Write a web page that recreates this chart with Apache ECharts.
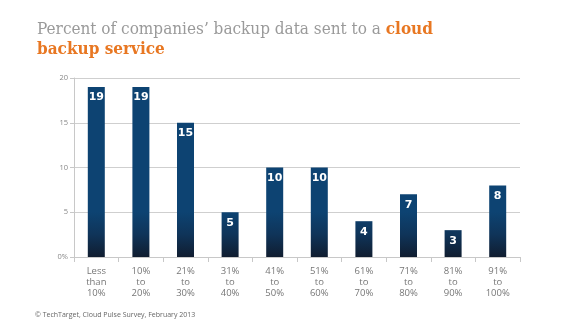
<!DOCTYPE html>
<html>
<head>
<meta charset="utf-8">
<script src="https://cdn.jsdelivr.net/npm/echarts@6/dist/echarts.min.js"></script>
<style>
  html, body { margin: 0; padding: 0; background: #fff; }
  #chart { width: 580px; height: 325px; }
</style>
</head>
<body>
<div id="chart"></div>
<script>
// Share of backup data sent to a cloud backup service, by band
var categories = ['Less\nthan\n10%', '10%\nto\n20%', '21%\nto\n30%', '31%\nto\n40%', '41%\nto\n50%',
                  '51%\nto\n60%', '61%\nto\n70%', '71%\nto\n80%', '81%\nto\n90%', '91%\nto\n100%'];
var companies = [19, 19, 15, 5, 10, 10, 4, 7, 3, 8];
var yTicks = [0, 5, 10, 15, 20];

var chart = echarts.init(document.getElementById('chart'), null, { renderer: 'canvas' });

// Bars darken toward the baseline (gradient in chart pixel space)
var barFill = new echarts.graphic.LinearGradient(0, 212, 0, 257, [
  { offset: 0, color: '#0d4372' },
  { offset: 0.5, color: '#0f3459' },
  { offset: 1, color: '#101d30' }
], true);

var titleFont = 'DejaVu Serif Condensed, DejaVu Serif';

chart.setOption({
  animation: false,
  title: {
    left: 32,
    top: 15,
    text: 'Percent of companies’ backup data sent to a {o|cloud}\n{o|backup service}',
    textStyle: {
      fontFamily: titleFont,
      fontSize: 17,
      fontWeight: 'normal',
      color: '#9a9a9a',
      lineHeight: 20,
      rich: {
        o: {
          fontFamily: titleFont,
          fontSize: 17,
          fontWeight: 'bold',
          color: '#e87722',
          lineHeight: 20
        }
      }
    }
  },
  graphic: [{
    type: 'text',
    left: 35,
    top: 311,
    style: {
      text: '© TechTarget, Cloud Pulse Survey, February 2013',
      fontFamily: 'Open Sans',
      fontSize: 7,
      fill: '#666'
    }
  }],
  grid: { left: 74, right: 60, top: 78, bottom: 68 },
  xAxis: {
    type: 'category',
    data: categories,
    axisLine: { lineStyle: { color: '#c8c8c8', width: 1 } },
    axisTick: { show: true, length: 5, lineStyle: { color: '#c8c8c8' } },
    axisLabel: {
      interval: 0,
      margin: 9,
      fontFamily: 'Open Sans',
      fontSize: 9.5,
      lineHeight: 11,
      color: '#777'
    }
  },
  yAxis: {
    type: 'value',
    min: yTicks[0],
    max: yTicks[yTicks.length - 1],
    interval: 5,
    axisLine: { show: true, lineStyle: { color: '#c8c8c8' } },
    axisTick: { show: true, length: 4, lineStyle: { color: '#c8c8c8' } },
    splitLine: { lineStyle: { color: '#cfcfcf', width: 1 } },
    axisLabel: {
      fontFamily: 'Open Sans',
      fontSize: 7.5,
      color: '#888',
      margin: 6,
      formatter: function (v) { return v === 0 ? '0%' : String(v); }
    }
  },
  series: [{
    type: 'bar',
    data: companies,
    barWidth: 17,
    itemStyle: { color: barFill },
    label: {
      show: true,
      position: 'insideTop',
      distance: 5,
      color: '#fff',
      fontFamily: 'DejaVu Sans',
      fontWeight: 'bold',
      fontSize: 11
    }
  }]
});
</script>
</body>
</html>
